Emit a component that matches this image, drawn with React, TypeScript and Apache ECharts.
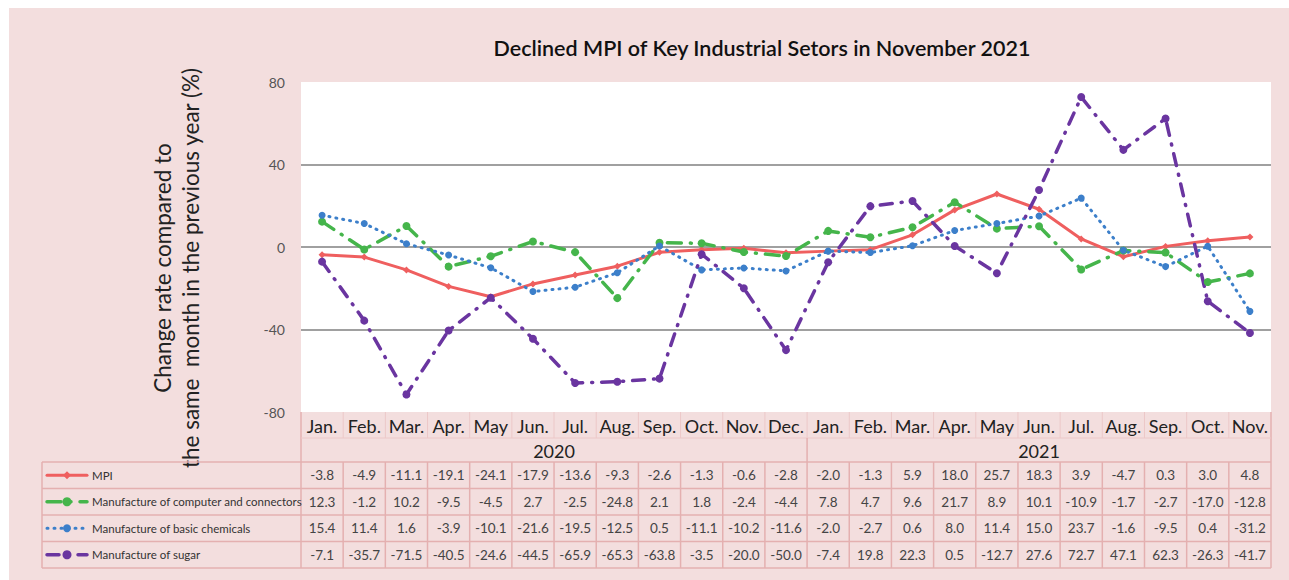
import React, { useEffect, useRef } from "react";
import * as echarts from "echarts";

const months = ["Jan.", "Feb.", "Mar.", "Apr.", "May", "Jun.", "Jul.", "Aug.", "Sep.", "Oct.", "Nov.", "Dec.", "Jan.", "Feb.", "Mar.", "Apr.", "May", "Jun.", "Jul.", "Aug.", "Sep.", "Oct.", "Nov."];
const years = ["2020", "2021"];
const yearSpans = [12, 11];
const seriesNames = ["MPI", "Manufacture of computer and connectors", "Manufacture of basic chemicals", "Manufacture of sugar"];
const mpi = [-3.8, -4.9, -11.1, -19.1, -24.1, -17.9, -13.6, -9.3, -2.6, -1.3, -0.6, -2.8, -2.0, -1.3, 5.9, 18.0, 25.7, 18.3, 3.9, -4.7, 0.3, 3.0, 4.8];
const computer = [12.3, -1.2, 10.2, -9.5, -4.5, 2.7, -2.5, -24.8, 2.1, 1.8, -2.4, -4.4, 7.8, 4.7, 9.6, 21.7, 8.9, 10.1, -10.9, -1.7, -2.7, -17.0, -12.8];
const chemicals = [15.4, 11.4, 1.6, -3.9, -10.1, -21.6, -19.5, -12.5, 0.5, -11.1, -10.2, -11.6, -2.0, -2.7, 0.6, 8.0, 11.4, 15.0, 23.7, -1.6, -9.5, 0.4, -31.2];
const sugar = [-7.1, -35.7, -71.5, -40.5, -24.6, -44.5, -65.9, -65.3, -63.8, -3.5, -20.0, -50.0, -7.4, 19.8, 22.3, 0.5, -12.7, 27.6, 72.7, 47.1, 62.3, -26.3, -41.7];
const seriesValues = [mpi, computer, chemicals, sugar];
const titleText = "Declined MPI of Key Industrial Setors in November 2021";
const yNameLines = ["Change rate compared to", "the same  month in the previous year (%)"];

// layout (page coordinates)
const OX = 9;
const OY = 8;
const W = 1289 - OX;
const H = 580 - OY;
const GL = 301, GT = 82, GR = 1271, GB = 412;
const TL = 42;
const YEAR_B = 462;
const ROW_H = 26.5;
const FONT = "Lato, 'Open Sans', sans-serif";
const LINE = "#e4b0b0";
const PINK = "#f3dede";

const styles = [
  { color: "#ef5f5f", type: "solid" as any, width: 3, symbol: "diamond", size: 7 },
  { color: "#45b54b", type: [14, 9, 1, 9] as any, width: 3.5, symbol: "circle", size: 8 },
  { color: "#3c7fca", type: [1, 6] as any, width: 3, symbol: "circle", size: 7 },
  { color: "#6a35a0", type: [12, 9, 1, 9] as any, width: 3.5, symbol: "circle", size: 8 },
];

const px = (x: number) => x - OX;
const py = (y: number) => y - OY;

function buildGraphic() {
  const g: any[] = [];
  const n = months.length;
  const cw = (GR - GL) / n;
  const ln = (x1: number, y1: number, x2: number, y2: number, w = 1.5, c = LINE) => ({
    type: "line",
    silent: true,
    shape: { x1: px(x1), y1: py(y1), x2: px(x2), y2: py(y2) },
    style: { stroke: c, lineWidth: w },
  });
  // title
  g.push({
    type: "text", x: px(762), y: py(48),
    style: { text: titleText, align: "center", verticalAlign: "middle", font: `600 21.5px ${FONT}`, fill: "#111" },
  });
  // y-axis name
  const yx = [162, 190];
  yNameLines.forEach((t, i) => {
    g.push({
      type: "text", x: px(yx[i]), y: py(268), rotation: Math.PI / 2,
      style: { text: t, align: "center", verticalAlign: "middle", font: `400 22.5px ${FONT}`, fill: "#222" },
    });
  });
  // table lines
  const bottom = YEAR_B + ROW_H * seriesValues.length;
  g.push(ln(GL, GB, GL, bottom));
  g.push(ln(GR, GB, GR, bottom));
  g.push(ln(TL, YEAR_B, TL, bottom));
  for (let r = 0; r <= seriesValues.length; r++) {
    const y = YEAR_B + r * ROW_H;
    g.push(ln(TL, y, GR, y));
  }
  g.push(ln(GL, 438, GR, 438, 1, "#ecc8c8"));
  for (let i = 1; i < n; i++) {
    const x = GL + i * cw;
    g.push(ln(x, GB, x, 438, 1, "#ecc8c8"));
    g.push(ln(x, YEAR_B, x, bottom));
  }
  // years
  let start = 0;
  years.forEach((yr, k) => {
    const span = yearSpans[k];
    const cx = GL + (start + span / 2) * cw;
    g.push({
      type: "text", x: px(cx), y: py(451),
      style: { text: yr, align: "center", verticalAlign: "middle", font: `400 18px ${FONT}`, fill: "#222" },
    });
    start += span;
    if (k < years.length - 1) g.push(ln(GL + start * cw, 438, GL + start * cw, YEAR_B));
  });
  // data rows
  seriesValues.forEach((vals, r) => {
    const cy = YEAR_B + r * ROW_H + ROW_H / 2;
    vals.forEach((v, i) => {
      g.push({
        type: "text", x: px(GL + (i + 0.5) * cw), y: py(cy),
        style: { text: v.toFixed(1), align: "center", verticalAlign: "middle", font: `400 13.5px ${FONT}`, fill: "#444" },
      });
    });
    const s = styles[r];
    g.push({
      type: "line", shape: { x1: px(47), y1: py(cy), x2: px(87), y2: py(cy) },
      style: { stroke: s.color, lineWidth: s.width, lineDash: s.type === "solid" ? null : s.type, lineCap: "round" },
    });
    if (s.symbol === "diamond") {
      g.push({
        type: "polygon", shape: { points: [[px(67), py(cy - 4)], [px(71), py(cy)], [px(67), py(cy + 4)], [px(63), py(cy)]] },
        style: { fill: s.color },
      });
    } else {
      g.push({ type: "circle", shape: { cx: px(67), cy: py(cy), r: s.size / 2 + 0.5 }, style: { fill: s.color } });
    }
    g.push({
      type: "text", x: px(92), y: py(cy),
      style: { text: seriesNames[r], align: "left", verticalAlign: "middle", font: `400 11.5px ${FONT}`, fill: "#333" },
    });
  });
  return g;
}

export default function App() {
  const ref = useRef<HTMLDivElement>(null);
  useEffect(() => {
    document.body.style.margin = "0";
    const chart = echarts.init(ref.current!, null, { renderer: "svg" });
    chart.setOption({
      animation: false,
      backgroundColor: PINK,
      grid: {
        left: px(GL), top: py(GT), width: GR - GL, height: GB - GT,
        show: true, backgroundColor: "#ffffff", borderWidth: 0, containLabel: false,
      },
      xAxis: {
        type: "category",
        data: months,
        boundaryGap: true,
        axisLine: { show: false },
        axisTick: { show: false },
        axisLabel: { interval: 0, fontSize: 18, color: "#222", margin: 5, fontFamily: FONT },
      },
      yAxis: {
        type: "value", min: -80, max: 80, interval: 40,
        axisLine: { show: false }, axisTick: { show: false },
        axisLabel: { fontSize: 14, color: "#555", margin: 16, fontFamily: FONT },
        splitLine: { lineStyle: { color: ["rgba(0,0,0,0)", "#a0a0a0", "#a0a0a0", "#a0a0a0", "rgba(0,0,0,0)"], width: 2 } },
      },
      series: seriesValues.map((vals, i) => ({
        name: seriesNames[i],
        type: "line",
        data: vals,
        symbol: styles[i].symbol,
        symbolSize: styles[i].size,
        itemStyle: { color: styles[i].color },
        lineStyle: { color: styles[i].color, width: styles[i].width, type: styles[i].type, cap: "round" },
      })),
      graphic: buildGraphic(),
    });
    return () => chart.dispose();
  }, []);
  return (
    <div style={{ position: "relative", width: 1289, height: 580, background: "#fff", overflow: "hidden" }}>
      <div ref={ref} style={{ position: "absolute", left: OX, top: OY, width: W, height: H }} />
    </div>
  );
}
